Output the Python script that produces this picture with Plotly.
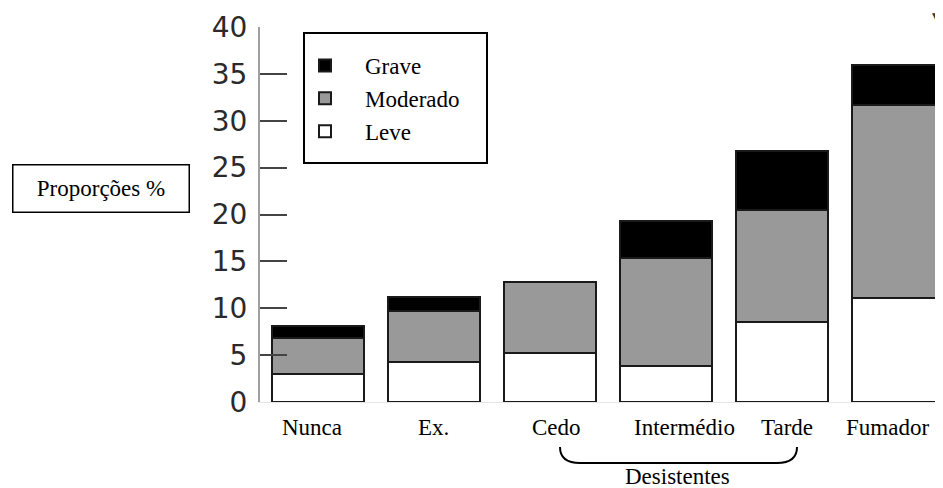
import plotly.graph_objects as go

categories = ["Nunca", "Ex.", "Cedo", "Intermédio", "Tarde", "Fumador"]
leve = [3.0, 4.3, 5.2, 3.8, 8.5, 11.1]
moderado = [3.8, 5.4, 7.6, 11.6, 12.0, 20.6]
grave = [1.3, 1.5, 0.0, 3.9, 6.3, 4.2]
y_ticks = [0, 5, 10, 15, 20, 25, 30, 35, 40]
label_shift = [-6, -1, 6, 18, 5, -10]

serif = "Liberation Serif, Times New Roman, serif"
line = dict(color="#1a1a1a", width=2)

# plot area in window pixels: x 260..943, y 27..402 (page has 8px body margin)
PW, PH = 683.0, 375.0
def px(x):
    return (x - 260) / PW
def py(y):
    return (402 - y) / PH

fig = go.Figure()
fig.add_trace(go.Bar(name="Leve", x=categories, y=leve, legendrank=3,
                     marker=dict(color="white", line=line)))
fig.add_trace(go.Bar(name="Moderado", x=categories, y=moderado, legendrank=2,
                     marker=dict(color="#999999", line=line)))
fig.add_trace(go.Bar(name="Grave", x=categories, y=grave, legendrank=1,
                     marker=dict(color="black", line=line)))

fig.update_layout(
    width=935, height=480,
    margin=dict(l=252, r=0, t=19, b=86),
    barmode="stack", bargap=0.207,
    plot_bgcolor="white", paper_bgcolor="white",
    showlegend=True,
    legend=dict(x=px(285), y=py(44), xanchor="left", yanchor="top",
                traceorder="normal",
                font=dict(family=serif, size=23, color="black"),
                itemwidth=70, bgcolor="rgba(0,0,0,0)", borderwidth=0),
    xaxis=dict(range=[-0.5, 5.388], showline=True, linecolor="#e6e6e6", linewidth=1,
               ticks="", showgrid=False, zeroline=False, showticklabels=False),
    yaxis=dict(range=[0, 40], tickvals=y_ticks, ticks="inside", ticklen=27,
               tickwidth=1.5, tickcolor="#444444", showline=True,
               linecolor="#a0a0a0", linewidth=2, showgrid=False, zeroline=False,
               ticklabelstandoff=5,
               tickfont=dict(family="DejaVu Sans, sans-serif", size=28, color="#2a2a2a")),
)

# category labels
for cat, dx in zip(categories, label_shift):
    fig.add_annotation(text=cat, x=cat, xref="x", y=py(427), yref="paper",
                       xshift=dx, xanchor="center", yanchor="middle", showarrow=False,
                       font=dict(family=serif, size=23, color="black"))

# legend frame
fig.add_shape(type="rect", xref="paper", yref="paper",
              x0=px(304), x1=px(487), y0=py(163), y1=py(33),
              line=dict(color="black", width=2), fillcolor="rgba(0,0,0,0)")

# y-axis title box
fig.add_annotation(text="Proporções %", xref="paper", yref="paper",
                   x=px(100.5), y=py(188), xanchor="center", yanchor="middle",
                   showarrow=False,
                   font=dict(family=serif, size=23, color="black"),
                   width=175, height=46, bordercolor="black", borderwidth=1.5,
                   borderpad=0, bgcolor="white")

# brace under Desistentes
x0, x1, yt, yb, r = px(560), px(797), py(447), py(463), 20 / PW
fig.add_shape(type="path", xref="paper", yref="paper",
              path=f"M {x0},{yt} Q {x0},{yb} {x0 + r},{yb} L {x1 - r},{yb} Q {x1},{yb} {x1},{yt}",
              line=dict(color="black", width=2))
fig.add_annotation(text="Desistentes", xref="paper", yref="paper",
                   x=px(677), y=py(476), xanchor="center", yanchor="middle",
                   showarrow=False,
                   font=dict(family=serif, size=23, color="black"))

# small marker at top-right corner
fig.add_annotation(text="▼", xref="paper", yref="paper",
                   x=px(944), y=py(17), xanchor="right", yanchor="middle",
                   showarrow=False,
                   font=dict(family="DejaVu Sans, sans-serif", size=12, color="#333333"))

fig.write_html("out.html")
